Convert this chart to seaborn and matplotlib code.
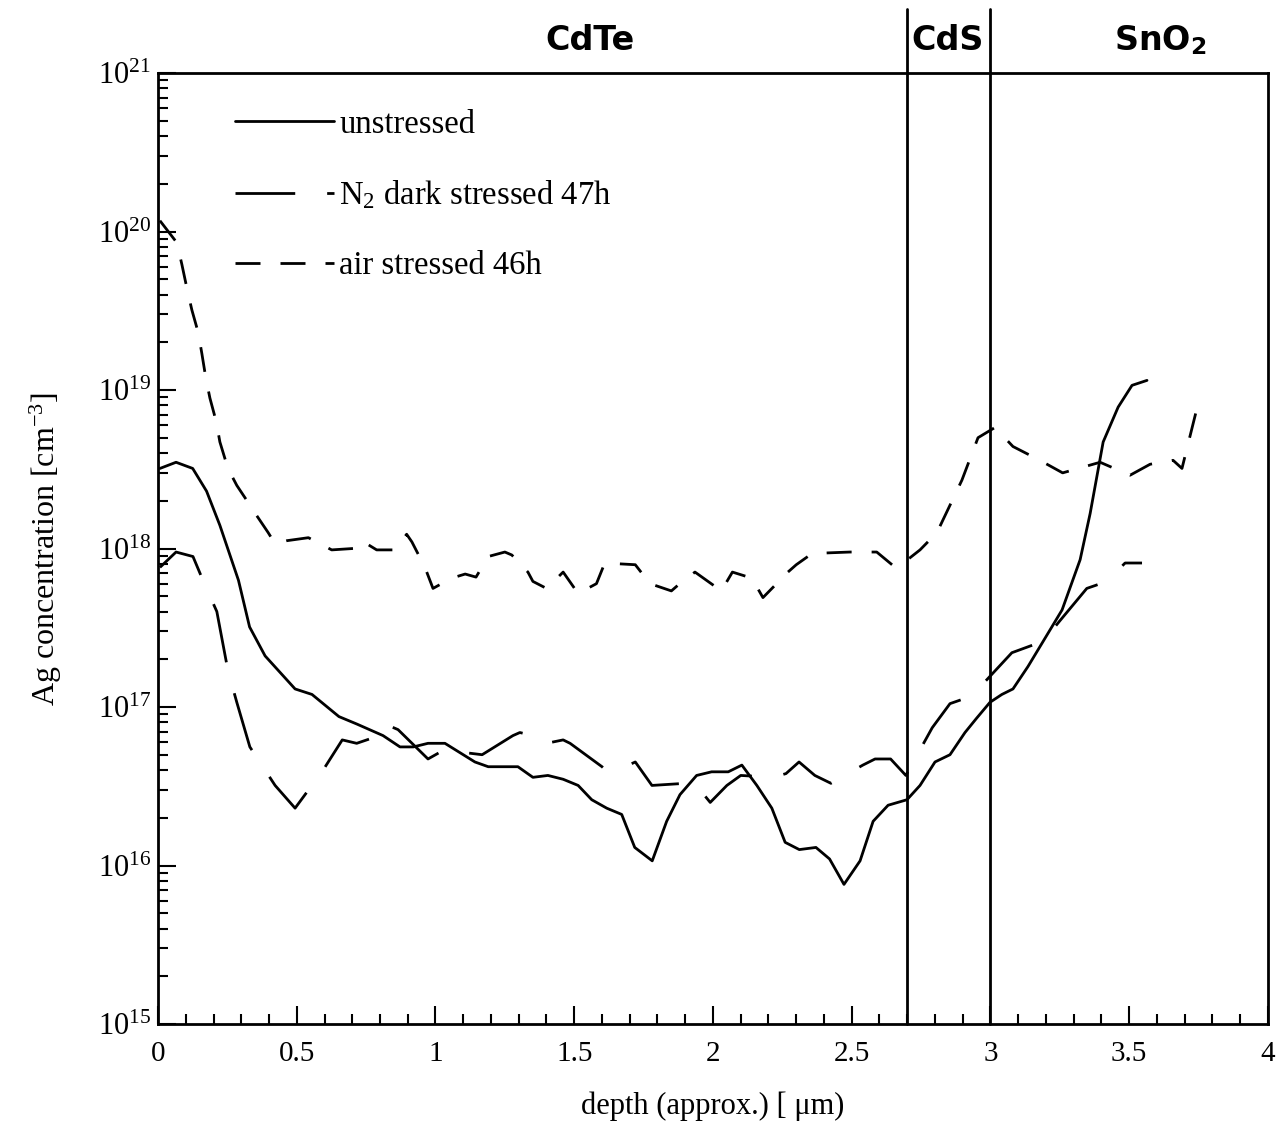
import matplotlib
matplotlib.use("Agg")
import matplotlib.pyplot as plt
import seaborn as sns
import pandas as pd
from matplotlib.ticker import MultipleLocator, FixedLocator, LogFormatterMathtext, FuncFormatter, NullFormatter

# ---------------- data ----------------
x_unstressed = [0.007, 0.065, 0.125, 0.175, 0.223, 0.29, 0.33, 0.386, 0.494, 0.555, 0.652, 0.717,
                0.811, 0.872, 0.92, 0.973, 1.034, 1.142, 1.19, 1.297, 1.351, 1.405, 1.46, 1.514,
                1.563, 1.617, 1.671, 1.718, 1.781, 1.833, 1.881, 1.941, 1.995, 2.055, 2.104, 2.158,
                2.212, 2.26, 2.311, 2.371, 2.42, 2.472, 2.53, 2.577, 2.631, 2.699, 2.746, 2.80,
                2.854, 2.908, 2.95, 2.998, 3.041, 3.081, 3.135, 3.19, 3.258, 3.323, 3.359, 3.406,
                3.46, 3.51, 3.564]
y_unstressed = [3.2e18, 3.5e18, 3.2e18, 2.3e18, 1.4e18, 6.3e17, 3.2e17, 2.1e17, 1.3e17, 1.2e17,
                8.7e16, 7.8e16, 6.6e16, 5.6e16, 5.6e16, 5.9e16, 5.9e16, 4.5e16, 4.2e16, 4.2e16,
                3.6e16, 3.7e16, 3.5e16, 3.2e16, 2.6e16, 2.3e16, 2.1e16, 1.3e16, 1.07e16, 1.9e16,
                2.8e16, 3.7e16, 3.9e16, 3.9e16, 4.3e16, 3.2e16, 2.3e16, 1.4e16, 1.26e16, 1.3e16,
                1.1e16, 7.6e15, 1.07e16, 1.9e16, 2.4e16, 2.6e16, 3.2e16, 4.5e16, 5.0e16, 6.9e16,
                8.5e16, 1.07e17, 1.2e17, 1.3e17, 1.8e17, 2.6e17, 4.1e17, 8.5e17, 1.66e18, 4.7e18,
                7.8e18, 1.07e19, 1.15e19]

x_n2 = [0.007, 0.065, 0.126, 0.162, 0.212, 0.252, 0.284, 0.331, 0.356, 0.422, 0.494, 0.595,
        0.664, 0.716, 0.764, 0.811, 0.865, 0.973, 1.034, 1.088, 1.168, 1.279, 1.304, 1.351,
        1.40, 1.46, 1.485, 1.60, 1.62, 1.67, 1.72, 1.78, 1.90, 1.94, 1.99, 2.05, 2.10, 2.216,
        2.263, 2.31, 2.367, 2.425, 2.54, 2.584, 2.64, 2.695, 2.79, 2.854, 2.90, 2.973, 3.077,
        3.19, 3.25, 3.347, 3.42, 3.485, 3.546]
y_n2 = [7.6e17, 9.5e17, 8.9e17, 6.3e17, 4.0e17, 1.7e17, 1.07e17, 5.6e16, 4.8e16, 3.2e16, 2.3e16,
        4.0e16, 6.2e16, 5.9e16, 6.3e16, 7.9e16, 7.2e16, 4.7e16, 5.4e16, 5.2e16, 5.0e16, 6.6e16,
        6.9e16, 6.6e16, 5.9e16, 6.2e16, 5.9e16, 4.2e16, 3.9e16, 4.1e16, 4.5e16, 3.2e16, 3.3e16,
        3.2e16, 2.5e16, 3.2e16, 3.7e16, 3.6e16, 3.8e16, 4.5e16, 3.7e16, 3.3e16, 4.3e16, 4.7e16,
        4.7e16, 3.7e16, 7.4e16, 1.05e17, 1.12e17, 1.4e17, 2.2e17, 2.6e17, 3.5e17, 5.6e17,
        6.2e17, 8.1e17, 8.1e17]

x_air = [0.007, 0.068, 0.086, 0.104, 0.122, 0.145, 0.158, 0.172, 0.187, 0.21, 0.223, 0.252,
         0.284, 0.325, 0.343, 0.397, 0.422, 0.464, 0.542, 0.626, 0.703, 0.734, 0.788, 0.854,
         0.896, 0.915, 0.962, 0.991, 1.058, 1.107, 1.146, 1.19, 1.25, 1.275, 1.333, 1.351,
         1.40, 1.46, 1.514, 1.58, 1.61, 1.72, 1.773, 1.85, 1.88, 1.935, 2.03, 2.07, 2.14,
         2.18, 2.27, 2.30, 2.357, 2.494, 2.59, 2.649, 2.674, 2.746, 2.807, 2.897, 2.955,
         3.016, 3.081, 3.178, 3.26, 3.395, 3.503, 3.575, 3.658, 3.69, 3.745]
y_air = [1.17e20, 8.5e19, 6.2e19, 4.4e19, 3.2e19, 2.3e19, 1.7e19, 1.2e19, 8.9e18, 6.3e18, 4.7e18,
         3.2e18, 2.5e18, 1.95e18, 1.74e18, 1.26e18, 1.07e18, 1.12e18, 1.17e18, 9.8e17, 1.0e18,
         1.12e18, 9.8e17, 9.8e17, 1.23e18, 1.1e18, 7.6e17, 5.6e17, 6.5e17, 6.9e17, 6.6e17,
         8.9e17, 9.5e17, 9.1e17, 7.1e17, 6.2e17, 5.6e17, 7.1e17, 5.2e17, 6.0e17, 8.1e17,
         7.9e17, 6.0e17, 5.4e17, 6.0e17, 7.1e17, 5.4e17, 7.1e17, 6.5e17, 4.9e17, 7.1e17,
         7.9e17, 9.3e17, 9.5e17, 9.5e17, 7.8e17, 7.8e17, 9.8e17, 1.26e18, 2.7e18, 5.0e18,
         5.8e18, 4.4e18, 3.6e18, 3.0e18, 3.5e18, 2.9e18, 3.4e18, 3.6e18, 3.2e18, 7.8e18]

labels = ["unstressed", "N$_2$ dark stressed 47h", "air stressed 46h"]
layer_bounds = [2.7, 3.0]
layer_names = ["CdTe", "CdS", "SnO$_\\mathbf{2}$"]
x_ticks = [0, 0.5, 1, 1.5, 2, 2.5, 3, 3.5, 4]
y_ticks = [1e15, 1e16, 1e17, 1e18, 1e19, 1e20, 1e21]

# ---------------- style ----------------
sns.set_theme(style="ticks")
plt.rcParams["font.family"] = ["Liberation Serif", "DejaVu Sans"]
plt.rcParams["mathtext.fontset"] = "custom"
plt.rcParams["mathtext.rm"] = "Liberation Serif"
plt.rcParams["mathtext.it"] = "Liberation Serif:italic"
plt.rcParams["mathtext.bf"] = "DejaVu Sans:bold"
for k in ["text.color", "axes.labelcolor", "xtick.color", "ytick.color", "axes.edgecolor"]:
    plt.rcParams[k] = "black"

W, H = 1279, 1136
fig = plt.figure(figsize=(W / 100, H / 100), dpi=100)
ax = fig.add_axes([158 / W, 1 - 1024 / H, 1110 / W, 951 / H])

lw = 2.0
sns.lineplot(x=x_unstressed, y=y_unstressed, ax=ax, color="black", lw=lw,
             label=labels[0], estimator=None, sort=False)
sns.lineplot(x=x_n2, y=y_n2, ax=ax, color="black", lw=lw, linestyle=(0, (21.5, 11.5)),
             label=labels[1], estimator=None, sort=False)
sns.lineplot(x=x_air, y=y_air, ax=ax, color="black", lw=lw, linestyle=(0, (9.0, 7.2)),
             label=labels[2], estimator=None, sort=False)

ax.set_yscale("log")
ax.set_xlim(0, 4)
ax.set_ylim(1e15, 1e21)

ax.set_xticks(x_ticks)
ax.xaxis.set_major_formatter(FuncFormatter(lambda v, p: "%g" % v))
ax.xaxis.set_minor_locator(MultipleLocator(0.1))
ax.yaxis.set_major_locator(FixedLocator(y_ticks))
minor_y = [m * 10.0 ** e for e in range(15, 21) for m in range(2, 10)]
ax.yaxis.set_minor_locator(FixedLocator(minor_y))
ax.yaxis.set_major_formatter(LogFormatterMathtext())
ax.yaxis.set_minor_formatter(NullFormatter())

ax.tick_params(which="both", direction="in", top=False, right=False, color="black")
ax.tick_params(which="major", length=13, width=1.5)
ax.tick_params(which="minor", length=7, width=1.5)
ax.tick_params(axis="x", which="major", labelsize=21, pad=12)
ax.tick_params(axis="y", which="major", labelsize=22, pad=5)
for s in ax.spines.values():
    s.set_linewidth(2)
    s.set_color("black")

for xb in layer_bounds:
    ax.axvline(xb, ymin=0, ymax=1015 / 951, color="black", lw=lw, clip_on=False)

ax.set_xlabel("depth (approx.) [ \u03bcm)", fontsize=22, labelpad=18)
ax.set_ylabel("Ag concentration [cm$^{-3}$]", fontsize=23, labelpad=24)

leg = ax.legend(loc="upper left", bbox_to_anchor=(0.069, 0.962), frameon=False, fontsize=23.5,
                handlelength=3.06, handletextpad=0.15, labelspacing=1.2,
                borderaxespad=0, borderpad=0)

fig.text(590 / W, 1 - 40 / H, layer_names[0], family="DejaVu Sans", weight="bold",
         size=24, ha="center", va="center")
fig.text(948 / W, 1 - 40 / H, layer_names[1], family="DejaVu Sans", weight="bold",
         size=24, ha="center", va="center")
fig.text(1160 / W, 1 - 40 / H, layer_names[2], family="DejaVu Sans", weight="bold",
         size=24, ha="center", va="center")

fig.savefig("out.png", dpi=100)
